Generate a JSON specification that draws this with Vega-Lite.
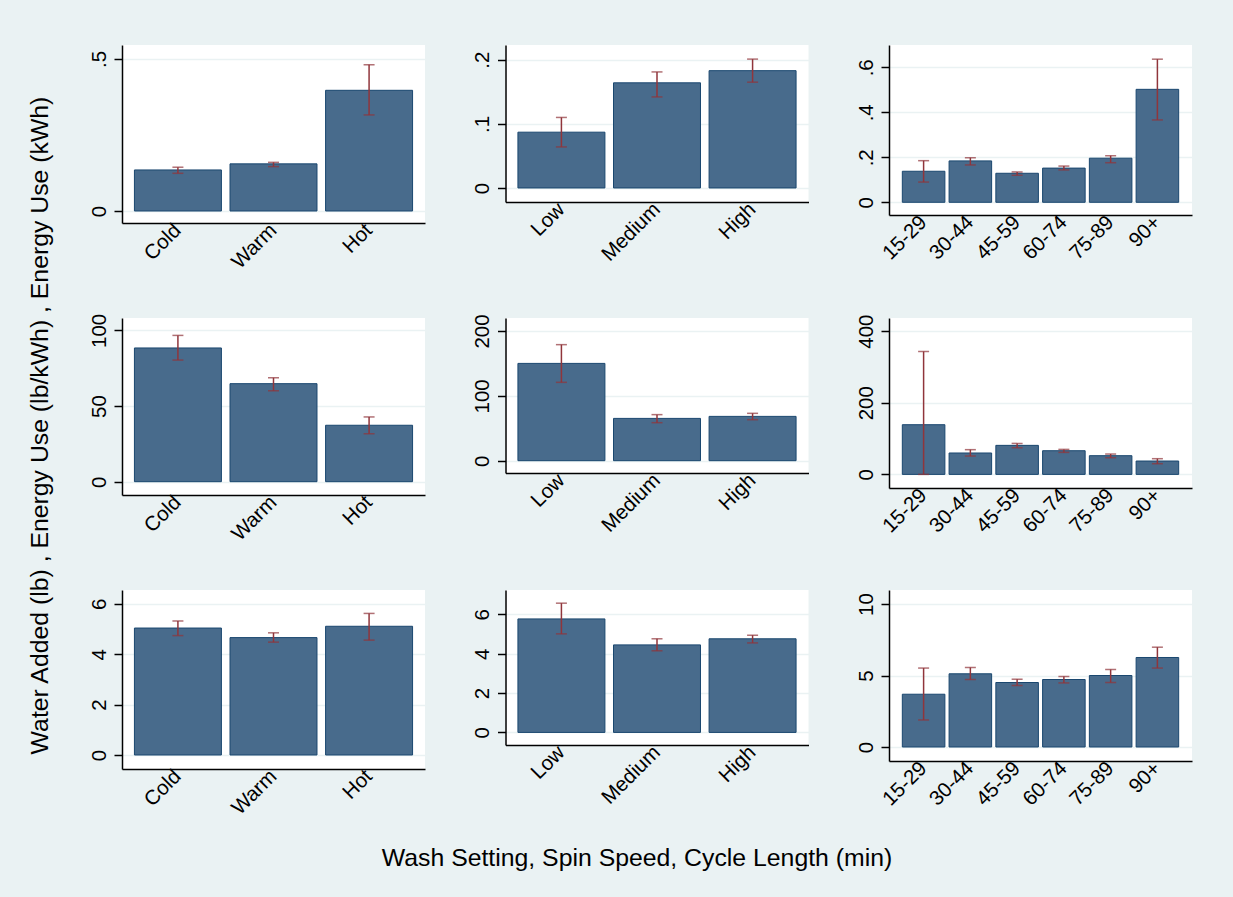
{
  "$schema": "https://vega.github.io/schema/vega-lite/v6.json",
  "background": "#EAF2F3",
  "padding": {"left": 26, "top": 45, "right": 42, "bottom": 27},
  "config": {
    "font": "Liberation Sans",
    "view": {"fill": "white", "stroke": null},
    "axis": {
      "domainColor": "#000000",
      "domainWidth": 1.5,
      "tickColor": "#000000",
      "tickWidth": 1.5,
      "tickSize": 8,
      "labelColor": "#000000",
      "labelFontSize": 20.5,
      "labelFont": "Liberation Sans",
      "titleFont": "Liberation Sans",
      "titleFontSize": 24.8,
      "titleFontWeight": "normal",
      "titleColor": "#000000",
      "gridColor": "#EAF2F3",
      "gridWidth": 1.5
    },
    "axisX": {"grid": false, "ticks": false, "labelAngle": -45, "labelAlign": "right", "labelBaseline": "middle", "labelPadding": 4},
    "axisY": {"grid": true, "labelAngle": -90, "labelAlign": "center", "labelBaseline": "alphabetic", "labelPadding": 9}
  },
  "data": {"values": [
    {"p": 1, "c": "Cold", "m": 0.135, "lo": 0.124, "hi": 0.144},
    {"p": 1, "c": "Warm", "m": 0.155, "lo": 0.146, "hi": 0.160},
    {"p": 1, "c": "Hot", "m": 0.397, "lo": 0.316, "hi": 0.481},
    {"p": 2, "c": "Low", "m": 0.087, "lo": 0.064, "hi": 0.110},
    {"p": 2, "c": "Medium", "m": 0.164, "lo": 0.142, "hi": 0.181},
    {"p": 2, "c": "High", "m": 0.183, "lo": 0.165, "hi": 0.201},
    {"p": 3, "c": "15-29", "m": 0.138, "lo": 0.090, "hi": 0.185},
    {"p": 3, "c": "30-44", "m": 0.184, "lo": 0.166, "hi": 0.198},
    {"p": 3, "c": "45-59", "m": 0.129, "lo": 0.120, "hi": 0.135},
    {"p": 3, "c": "60-74", "m": 0.152, "lo": 0.144, "hi": 0.161},
    {"p": 3, "c": "75-89", "m": 0.196, "lo": 0.176, "hi": 0.207},
    {"p": 3, "c": "90+", "m": 0.502, "lo": 0.366, "hi": 0.636},
    {"p": 4, "c": "Cold", "m": 88.4, "lo": 80.4, "hi": 96.7},
    {"p": 4, "c": "Warm", "m": 64.8, "lo": 60.1, "hi": 68.7},
    {"p": 4, "c": "Hot", "m": 37.3, "lo": 31.7, "hi": 42.8},
    {"p": 5, "c": "Low", "m": 150, "lo": 120.8, "hi": 178.9},
    {"p": 5, "c": "Medium", "m": 65.2, "lo": 58.6, "hi": 71},
    {"p": 5, "c": "High", "m": 68.3, "lo": 63.2, "hi": 73},
    {"p": 6, "c": "15-29", "m": 138.7, "lo": 0, "hi": 343},
    {"p": 6, "c": "30-44", "m": 59.7, "lo": 51.2, "hi": 69},
    {"p": 6, "c": "45-59", "m": 81, "lo": 74.5, "hi": 86.5},
    {"p": 6, "c": "60-74", "m": 66.1, "lo": 61.4, "hi": 69.8},
    {"p": 6, "c": "75-89", "m": 52.2, "lo": 46.6, "hi": 56.8},
    {"p": 6, "c": "90+", "m": 37.3, "lo": 29.8, "hi": 43.8},
    {"p": 7, "c": "Cold", "m": 5.04, "lo": 4.74, "hi": 5.32},
    {"p": 7, "c": "Warm", "m": 4.66, "lo": 4.48, "hi": 4.85},
    {"p": 7, "c": "Hot", "m": 5.11, "lo": 4.56, "hi": 5.62},
    {"p": 8, "c": "Low", "m": 5.77, "lo": 5.01, "hi": 6.57},
    {"p": 8, "c": "Medium", "m": 4.45, "lo": 4.15, "hi": 4.76},
    {"p": 8, "c": "High", "m": 4.76, "lo": 4.55, "hi": 4.94},
    {"p": 9, "c": "15-29", "m": 3.69, "lo": 1.89, "hi": 5.52},
    {"p": 9, "c": "30-44", "m": 5.12, "lo": 4.72, "hi": 5.56},
    {"p": 9, "c": "45-59", "m": 4.51, "lo": 4.30, "hi": 4.74},
    {"p": 9, "c": "60-74", "m": 4.72, "lo": 4.48, "hi": 4.93},
    {"p": 9, "c": "75-89", "m": 5.00, "lo": 4.51, "hi": 5.42},
    {"p": 9, "c": "90+", "m": 6.26, "lo": 5.52, "hi": 6.98}
  ]},
  "columns": 3,
  "spacing": {"row": 95, "column": 80.5},
  "bounds": "flush",
  "align": "each",
  "concat": [
    {
      "width": 303, "height": 178,
      "transform": [{"filter": "datum.p == 1"}],
      "encoding": {"x": {"field": "c", "type": "nominal", "title": null, "scale": {"domain": ["Cold", "Warm", "Hot"], "paddingInner": 0.09, "paddingOuter": 0.13}}},
      "layer": [
        {"mark": {"type": "bar", "fill": "#486B8C", "stroke": "#1A476F", "strokeWidth": 1},
         "encoding": {"y": {"field": "m", "type": "quantitative", "title": null, "scale": {"domain": [-0.0395, 0.546], "nice": false, "zero": false}, "axis": {"values": [0, 0.5], "format": ".1f", "labelExpr": "datum.value == 0 ? '0' : replace(datum.label, '0.', '.')"}}, "y2": {"datum": 0}}},
        {"mark": {"type": "rule", "color": "#90353B", "strokeWidth": 1.5}, "encoding": {"y": {"field": "lo", "type": "quantitative", "title": null}, "y2": {"field": "hi"}}},
        {"mark": {"type": "tick", "color": "#90353B", "size": 11, "thickness": 1.5}, "encoding": {"y": {"field": "lo", "type": "quantitative", "title": null}}},
        {"mark": {"type": "tick", "color": "#90353B", "size": 11, "thickness": 1.5}, "encoding": {"y": {"field": "hi", "type": "quantitative", "title": null}}}
      ]
    },
    {
      "width": 303, "height": 157,
      "transform": [{"filter": "datum.p == 2"}],
      "encoding": {"x": {"field": "c", "type": "nominal", "title": null, "scale": {"domain": ["Low", "Medium", "High"], "paddingInner": 0.09, "paddingOuter": 0.13}}},
      "layer": [
        {"mark": {"type": "bar", "fill": "#486B8C", "stroke": "#1A476F", "strokeWidth": 1},
         "encoding": {"y": {"field": "m", "type": "quantitative", "title": null, "scale": {"domain": [-0.0219, 0.223], "nice": false, "zero": false}, "axis": {"values": [0, 0.1, 0.2], "format": ".1f", "labelExpr": "datum.value == 0 ? '0' : replace(datum.label, '0.', '.')"}}, "y2": {"datum": 0}}},
        {"mark": {"type": "rule", "color": "#90353B", "strokeWidth": 1.5}, "encoding": {"y": {"field": "lo", "type": "quantitative", "title": null}, "y2": {"field": "hi"}}},
        {"mark": {"type": "tick", "color": "#90353B", "size": 11, "thickness": 1.5}, "encoding": {"y": {"field": "lo", "type": "quantitative", "title": null}}},
        {"mark": {"type": "tick", "color": "#90353B", "size": 11, "thickness": 1.5}, "encoding": {"y": {"field": "hi", "type": "quantitative", "title": null}}}
      ]
    },
    {
      "width": 303, "height": 170,
      "transform": [{"filter": "datum.p == 3"}],
      "encoding": {"x": {"field": "c", "type": "nominal", "title": null, "scale": {"domain": ["15-29", "30-44", "45-59", "60-74", "75-89", "90+"], "paddingInner": 0.09, "paddingOuter": 0.285}}},
      "layer": [
        {"mark": {"type": "bar", "fill": "#486B8C", "stroke": "#1A476F", "strokeWidth": 1},
         "encoding": {"y": {"field": "m", "type": "quantitative", "title": null, "scale": {"domain": [-0.0564, 0.699], "nice": false, "zero": false}, "axis": {"values": [0, 0.2, 0.4, 0.6], "format": ".1f", "labelExpr": "datum.value == 0 ? '0' : replace(datum.label, '0.', '.')"}}, "y2": {"datum": 0}}},
        {"mark": {"type": "rule", "color": "#90353B", "strokeWidth": 1.5}, "encoding": {"y": {"field": "lo", "type": "quantitative", "title": null}, "y2": {"field": "hi"}}},
        {"mark": {"type": "tick", "color": "#90353B", "size": 11, "thickness": 1.5}, "encoding": {"y": {"field": "lo", "type": "quantitative", "title": null}}},
        {"mark": {"type": "tick", "color": "#90353B", "size": 11, "thickness": 1.5}, "encoding": {"y": {"field": "hi", "type": "quantitative", "title": null}}}
      ]
    },
    {
      "width": 303, "height": 177,
      "transform": [{"filter": "datum.p == 4"}],
      "encoding": {"x": {"field": "c", "type": "nominal", "title": null, "scale": {"domain": ["Cold", "Warm", "Hot"], "paddingInner": 0.09, "paddingOuter": 0.13}}},
      "layer": [
        {"mark": {"type": "bar", "fill": "#486B8C", "stroke": "#1A476F", "strokeWidth": 1},
         "encoding": {"y": {"field": "m", "type": "quantitative", "title": "Water Added (lb) , Energy Use (lb/kWh) , Energy Use (kWh)", "scale": {"domain": [-8.8, 108.2], "nice": false, "zero": false}, "axis": {"values": [0, 50, 100], "titleX": -82, "titleY": 107, "titleAngle": -90, "titleAlign": "center", "titleBaseline": "middle"}}, "y2": {"datum": 0}}},
        {"mark": {"type": "rule", "color": "#90353B", "strokeWidth": 1.5}, "encoding": {"y": {"field": "lo", "type": "quantitative", "title": "Water Added (lb) , Energy Use (lb/kWh) , Energy Use (kWh)"}, "y2": {"field": "hi"}}},
        {"mark": {"type": "tick", "color": "#90353B", "size": 11, "thickness": 1.5}, "encoding": {"y": {"field": "lo", "type": "quantitative", "title": "Water Added (lb) , Energy Use (lb/kWh) , Energy Use (kWh)"}}},
        {"mark": {"type": "tick", "color": "#90353B", "size": 11, "thickness": 1.5}, "encoding": {"y": {"field": "hi", "type": "quantitative", "title": "Water Added (lb) , Energy Use (lb/kWh) , Energy Use (kWh)"}}}
      ]
    },
    {
      "width": 303, "height": 155,
      "transform": [{"filter": "datum.p == 5"}],
      "encoding": {"x": {"field": "c", "type": "nominal", "title": null, "scale": {"domain": ["Low", "Medium", "High"], "paddingInner": 0.09, "paddingOuter": 0.13}}},
      "layer": [
        {"mark": {"type": "bar", "fill": "#486B8C", "stroke": "#1A476F", "strokeWidth": 1},
         "encoding": {"y": {"field": "m", "type": "quantitative", "title": null, "scale": {"domain": [-19, 220], "nice": false, "zero": false}, "axis": {"values": [0, 100, 200]}}, "y2": {"datum": 0}}},
        {"mark": {"type": "rule", "color": "#90353B", "strokeWidth": 1.5}, "encoding": {"y": {"field": "lo", "type": "quantitative", "title": null}, "y2": {"field": "hi"}}},
        {"mark": {"type": "tick", "color": "#90353B", "size": 11, "thickness": 1.5}, "encoding": {"y": {"field": "lo", "type": "quantitative", "title": null}}},
        {"mark": {"type": "tick", "color": "#90353B", "size": 11, "thickness": 1.5}, "encoding": {"y": {"field": "hi", "type": "quantitative", "title": null}}}
      ]
    },
    {
      "width": 303, "height": 170,
      "transform": [{"filter": "datum.p == 6"}],
      "encoding": {"x": {"field": "c", "type": "nominal", "title": null, "scale": {"domain": ["15-29", "30-44", "45-59", "60-74", "75-89", "90+"], "paddingInner": 0.09, "paddingOuter": 0.285}}},
      "layer": [
        {"mark": {"type": "bar", "fill": "#486B8C", "stroke": "#1A476F", "strokeWidth": 1},
         "encoding": {"y": {"field": "m", "type": "quantitative", "title": null, "scale": {"domain": [-38, 436.5], "nice": false, "zero": false}, "axis": {"values": [0, 200, 400]}}, "y2": {"datum": 0}}},
        {"mark": {"type": "rule", "color": "#90353B", "strokeWidth": 1.5}, "encoding": {"y": {"field": "lo", "type": "quantitative", "title": null}, "y2": {"field": "hi"}}},
        {"mark": {"type": "tick", "color": "#90353B", "size": 11, "thickness": 1.5}, "encoding": {"y": {"field": "lo", "type": "quantitative", "title": null}}},
        {"mark": {"type": "tick", "color": "#90353B", "size": 11, "thickness": 1.5}, "encoding": {"y": {"field": "hi", "type": "quantitative", "title": null}}}
      ]
    },
    {
      "width": 303, "height": 179,
      "transform": [{"filter": "datum.p == 7"}],
      "encoding": {"x": {"field": "c", "type": "nominal", "title": null, "scale": {"domain": ["Cold", "Warm", "Hot"], "paddingInner": 0.09, "paddingOuter": 0.13}}},
      "layer": [
        {"mark": {"type": "bar", "fill": "#486B8C", "stroke": "#1A476F", "strokeWidth": 1},
         "encoding": {"y": {"field": "m", "type": "quantitative", "title": null, "scale": {"domain": [-0.556, 6.55], "nice": false, "zero": false}, "axis": {"values": [0, 2, 4, 6]}}, "y2": {"datum": 0}}},
        {"mark": {"type": "rule", "color": "#90353B", "strokeWidth": 1.5}, "encoding": {"y": {"field": "lo", "type": "quantitative", "title": null}, "y2": {"field": "hi"}}},
        {"mark": {"type": "tick", "color": "#90353B", "size": 11, "thickness": 1.5}, "encoding": {"y": {"field": "lo", "type": "quantitative", "title": null}}},
        {"mark": {"type": "tick", "color": "#90353B", "size": 11, "thickness": 1.5}, "encoding": {"y": {"field": "hi", "type": "quantitative", "title": null}}}
      ]
    },
    {
      "width": 303, "height": 155,
      "transform": [{"filter": "datum.p == 8"}],
      "encoding": {"x": {"field": "c", "type": "nominal", "title": "Wash Setting, Spin Speed, Cycle Length (min)", "scale": {"domain": ["Low", "Medium", "High"], "paddingInner": 0.09, "paddingOuter": 0.13}, "axis": {"titleX": 131, "titleY": 113, "titleAlign": "center", "titleBaseline": "middle", "titleAngle": 0}}},
      "layer": [
        {"mark": {"type": "bar", "fill": "#486B8C", "stroke": "#1A476F", "strokeWidth": 1},
         "encoding": {"y": {"field": "m", "type": "quantitative", "title": null, "scale": {"domain": [-0.64, 7.24], "nice": false, "zero": false}, "axis": {"values": [0, 2, 4, 6]}}, "y2": {"datum": 0}}},
        {"mark": {"type": "rule", "color": "#90353B", "strokeWidth": 1.5}, "encoding": {"y": {"field": "lo", "type": "quantitative", "title": null}, "y2": {"field": "hi"}}},
        {"mark": {"type": "tick", "color": "#90353B", "size": 11, "thickness": 1.5}, "encoding": {"y": {"field": "lo", "type": "quantitative", "title": null}}},
        {"mark": {"type": "tick", "color": "#90353B", "size": 11, "thickness": 1.5}, "encoding": {"y": {"field": "hi", "type": "quantitative", "title": null}}}
      ]
    },
    {
      "width": 303, "height": 171,
      "transform": [{"filter": "datum.p == 9"}],
      "encoding": {"x": {"field": "c", "type": "nominal", "title": null, "scale": {"domain": ["15-29", "30-44", "45-59", "60-74", "75-89", "90+"], "paddingInner": 0.09, "paddingOuter": 0.285}}},
      "layer": [
        {"mark": {"type": "bar", "fill": "#486B8C", "stroke": "#1A476F", "strokeWidth": 1},
         "encoding": {"y": {"field": "m", "type": "quantitative", "title": null, "scale": {"domain": [-0.98, 10.98], "nice": false, "zero": false}, "axis": {"values": [0, 5, 10]}}, "y2": {"datum": 0}}},
        {"mark": {"type": "rule", "color": "#90353B", "strokeWidth": 1.5}, "encoding": {"y": {"field": "lo", "type": "quantitative", "title": null}, "y2": {"field": "hi"}}},
        {"mark": {"type": "tick", "color": "#90353B", "size": 11, "thickness": 1.5}, "encoding": {"y": {"field": "lo", "type": "quantitative", "title": null}}},
        {"mark": {"type": "tick", "color": "#90353B", "size": 11, "thickness": 1.5}, "encoding": {"y": {"field": "hi", "type": "quantitative", "title": null}}}
      ]
    }
  ]
}
